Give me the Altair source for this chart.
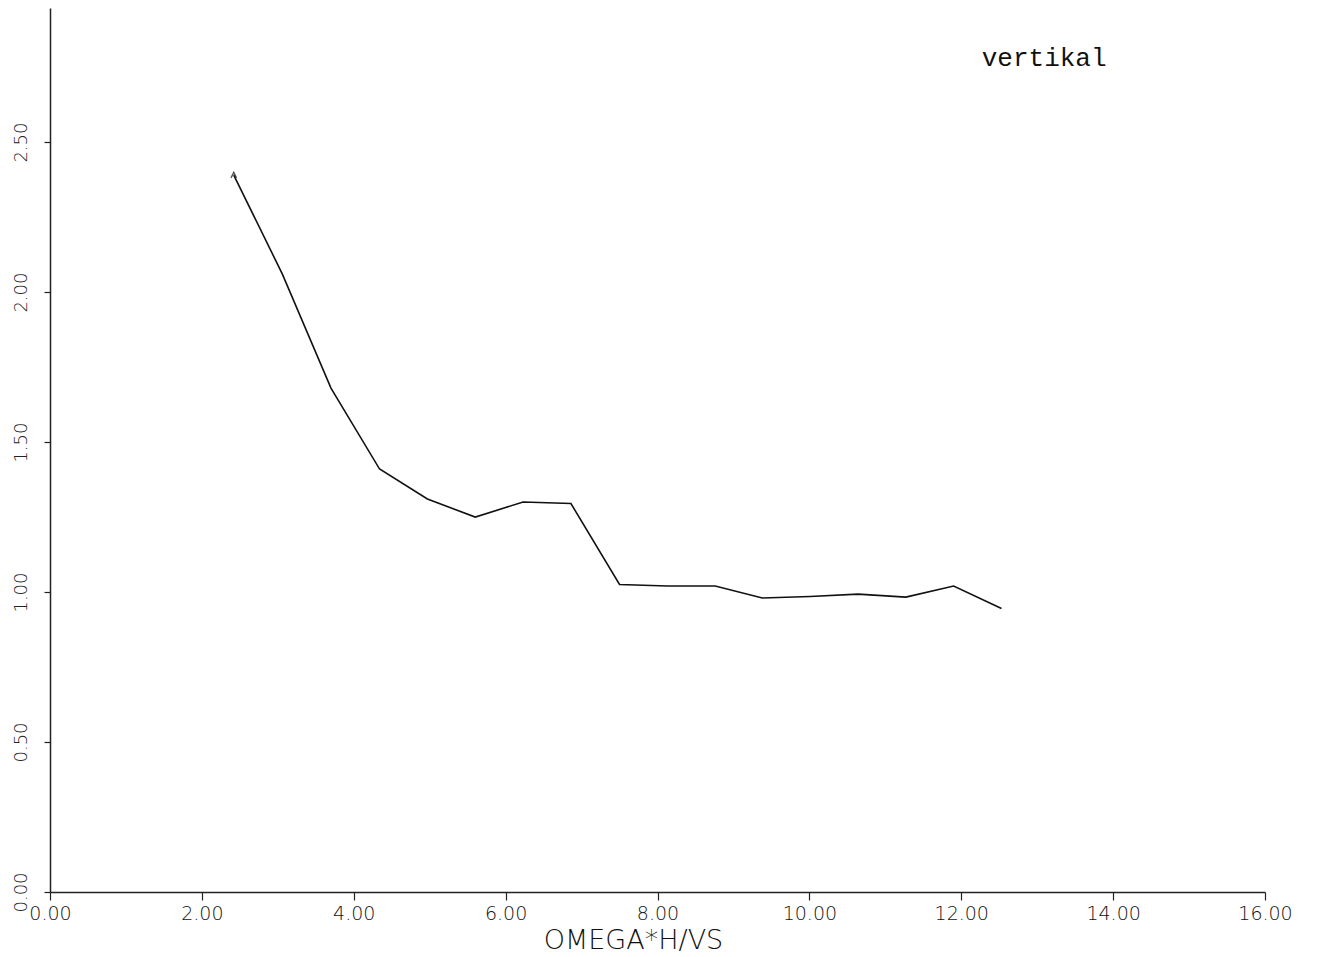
import altair as alt
import pandas as pd

# Data
omega = [2.42, 3.06, 3.70, 4.34, 4.97, 5.60, 6.23, 6.86, 7.50, 8.13, 8.76, 9.38,
         10.01, 10.64, 11.27, 11.90, 12.53]
ratio = [2.39, 2.06, 1.68, 1.41, 1.31, 1.25, 1.30, 1.295, 1.025, 1.02, 1.02, 0.98,
         0.985, 0.993, 0.983, 1.02, 0.945]

x_ticks = [0, 2, 4, 6, 8, 10, 12, 14, 16]
y_ticks = [0, 0.5, 1.0, 1.5, 2.0, 2.5]

label_text = ["vertikal"]
label_x = [12.27]
label_y = [2.78]

df = pd.DataFrame({"omega": omega, "ratio": ratio})
df_start = df.iloc[[0]]
df_label = pd.DataFrame({"x": label_x, "y": label_y, "t": label_text})

font = "DejaVu Sans"

xscale = alt.Scale(domain=[0, 16], nice=False, zero=False)
yscale = alt.Scale(domain=[0, 2.947], nice=False, zero=False)

xaxis = alt.Axis(
    values=x_ticks, format=".2f", title="OMEGA*H/VS",
    labelFont=font, labelFontSize=19, labelFontWeight=300, labelColor="#111",
    labelPadding=4,
    titleFont=font, titleFontSize=27, titleFontWeight=300, titleColor="#111",
    titlePadding=4, titleX=583, titleAlign="center",
    tickSize=8, tickColor="#222", domainColor="#222", domainWidth=1.5,
    tickWidth=1.2, grid=False, labelFlush=False,
)
yaxis = alt.Axis(
    values=y_ticks, format=".2f", title=None,
    labelFont=font, labelFontSize=18, labelFontWeight=300, labelColor="#222",
    labelAngle=270, labelAlign="center", labelBaseline="bottom", labelPadding=14,
    tickSize=6, tickColor="#222", domainColor="#222", domainWidth=1.5,
    tickWidth=1.2, grid=False, labelFlush=False,
)

line = alt.Chart(df).mark_line(color="#111", strokeWidth=1.6).encode(
    x=alt.X("omega:Q", scale=xscale, axis=xaxis),
    y=alt.Y("ratio:Q", scale=yscale, axis=yaxis),
)

start = alt.Chart(df_start).mark_point(
    shape="M-1,1L0,-1L1,1", size=30, filled=False, color="#111", strokeWidth=1.4
).encode(
    x=alt.X("omega:Q", scale=xscale),
    y=alt.Y("ratio:Q", scale=yscale),
)

label = alt.Chart(df_label).mark_text(
    font="Liberation Mono", fontSize=26, align="left", baseline="middle", color="#111"
).encode(
    x=alt.X("x:Q", scale=xscale),
    y=alt.Y("y:Q", scale=yscale),
    text="t:N",
)

chart = alt.layer(line, start, label).properties(
    width=1215, height=884,
    background="white",
    autosize=alt.AutoSizeParams(type="none"),
    padding={"left": 42, "top": 0, "right": 40, "bottom": 64},
).configure_view(strokeWidth=0, stroke=None)

chart.save("out.html", embed_options={"renderer": "svg", "actions": False})
